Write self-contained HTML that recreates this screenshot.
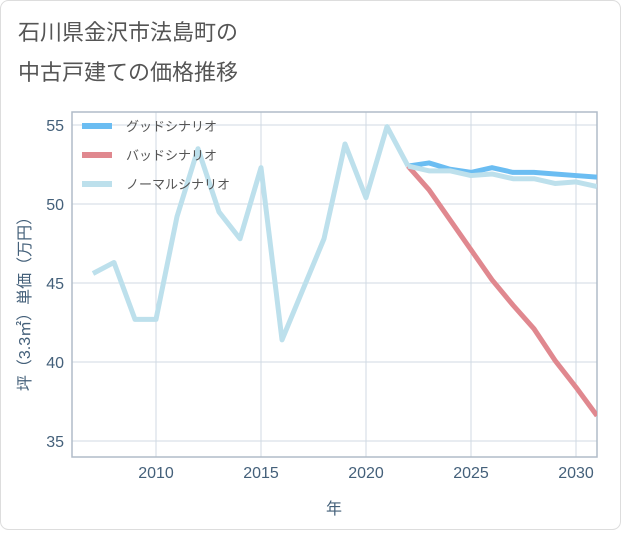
<!DOCTYPE html>
<html><head><meta charset="utf-8"><style>
body{margin:0;background:#fff;}
svg text{font-family:"Liberation Sans","Noto Sans CJK JP",sans-serif;}
</style></head><body>
<svg width="621" height="530">
<rect x="0.5" y="0.5" width="620" height="529" rx="8" fill="#fff" stroke="#ddd"/>
<text x="18" y="40" font-size="22" fill="#555">石川県金沢市法島町の</text>
<text x="18" y="80" font-size="22" fill="#555">中古戸建ての価格推移</text>
<g id="grid"></g>
<rect x="72" y="112" width="525" height="345" fill="none" stroke="#b0bcc8" stroke-width="1.5"/>
<g id="ticks"></g>
<g id="series"></g>
<g id="legend"></g>
<text x="0" y="0" transform="translate(30,300) rotate(-90)" text-anchor="middle" font-size="16" fill="#44607a">坪（3.3㎡）単価（万円）</text>
<text x="334" y="514" text-anchor="middle" font-size="16" fill="#44607a">年</text>
</svg>
<script>
const histYears=[2007,2008,2009,2010,2011,2012,2013,2014,2015,2016,2017,2018,2019,2020,2021,2022];
const histValues=[45.6,46.3,42.7,42.7,49.2,53.5,49.5,47.8,52.3,41.4,44.6,47.8,53.8,50.4,54.9,52.4];
const fcYears=[2022,2023,2024,2025,2026,2027,2028,2029,2030,2031];
const goodValues=[52.4,52.6,52.2,52.0,52.3,52.0,52.0,51.9,51.8,51.7];
const badValues=[52.4,50.9,49.0,47.1,45.2,43.6,42.1,40.1,38.4,36.6];
const normalValues=[52.4,52.1,52.1,51.8,51.9,51.6,51.6,51.3,51.4,51.1];
const xTicks=[2010,2015,2020,2025,2030];
const yTicks=[35,40,45,50,55];
const legendLabels=["グッドシナリオ","バッドシナリオ","ノーマルシナリオ"];
const NS="http://www.w3.org/2000/svg";
const L=72,R=597,T=112,B=457;
const xs=y=>156+(y-2010)*21;
const ys=v=>204-(v-50)*15.8;
function mk(t,a,p){const e=document.createElementNS(NS,t);for(const k in a)e.setAttribute(k,a[k]);p.appendChild(e);return e;}
const grid=document.getElementById('grid'),ticks=document.getElementById('ticks');
xTicks.forEach(t=>{const l=mk('line',{x1:xs(t),x2:xs(t),y1:T,y2:B,stroke:'#d0dae3'},grid);

const tx=mk('text',{x:xs(t),y:478,'text-anchor':'middle','font-size':16,fill:'#44607a'},ticks);tx.textContent=t;
});
yTicks.forEach(t=>{const l=mk('line',{x1:L,x2:R,y1:ys(t),y2:ys(t),stroke:'#d0dae3'},grid);

const tx=mk('text',{x:64,y:ys(t)+6,'text-anchor':'end','font-size':16,fill:'#44607a'},ticks);tx.textContent=t;
});
const sg=document.getElementById('series');
function line(xv,yv,c,name){const p=mk('polyline',{points:xv.map((x,i)=>xs(x)+','+ys(yv[i])).join(' '),fill:'none',stroke:c,'stroke-width':5,'stroke-linejoin':'round'},sg);
}
const cl=document.createElementNS(NS,'clipPath');cl.id='c';mk('rect',{x:L,y:T,width:R-L,height:B-T},cl);sg.appendChild(cl);sg.setAttribute('clip-path','url(#c)');
line(fcYears,badValues,'#e0888f','bad-scenario-line');
line(fcYears,goodValues,'#6bbdf2','good-scenario-line');
line(histYears,histValues,'#bde0ec','history-line');
line(fcYears,normalValues,'#bde0ec','normal-scenario-line');
const lg=document.getElementById('legend');const cols=['#6bbdf2','#e0888f','#bde0ec'];
legendLabels.forEach((s,i)=>{const y=126+i*29;
const r=mk('rect',{x:82,y:y-3,width:30,height:6,fill:cols[i]},lg);
const t=mk('text',{x:126,y:y+5,'font-size':13,fill:'#555'},lg);t.textContent=s;});
</script>
</body></html>
